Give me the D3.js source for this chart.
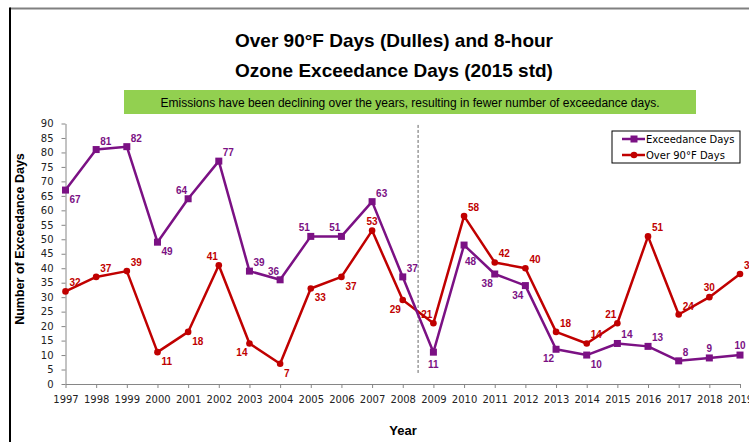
<!DOCTYPE html>
<html>
<head>
<meta charset="utf-8">
<script src="https://cdn.jsdelivr.net/npm/d3@7"></script>
<style>
  body { margin: 0; background: #fff; }
  .axis path, .axis line { stroke: #868686; }
  .axis text { font-family: "DejaVu Sans", sans-serif; font-size: 10px; fill: #222; }
</style>
</head>
<body>
<div id="chart"></div>
<script>
var years = d3.range(1997, 2020);
var exceedDays = [67, 81, 82, 49, 64, 77, 39, 36, 51, 51, 63, 37, 11, 48, 38, 34, 12, 10, 14, 13, 8, 9, 10];
var hotDays = [32, 37, 39, 11, 18, 41, 14, 7, 33, 37, 53, 29, 21, 58, 42, 40, 18, 14, 21, 51, 24, 30, 38];
var yTicks = d3.range(0, 95, 5);
var seriesNames = ["Exceedance Days", "Over 90\u00b0F Days"];
// where each data label sits next to its point
var exceedPlace = ["br","ar","ar","br","al","ar","ar","al","al","al","ar","ar","b","bd","bl","bl","bl","br","ar","ar","ar","a","a"];
var hotPlace = ["ar","ar","ar","br","br","al","bl","br","br","br","a","bl","al","ar","ar","ar","ar","ar","al","ar","ar","a","ar"];

var width = 749, height = 442,
  margin = {left: 65.5, right: 9, top: 123.5, bottom: 58},
  purple = "#7b1184", red = "#c00000";

var svg = d3.select("#chart").append("svg")
  .attr("width", width)
  .attr("height", height);

// frame (top grey rule, left black rule)
svg.append("line").attr("x1", 10).attr("x2", width).attr("y1", 8.5).attr("y2", 8.5)
  .attr("stroke", "#808080").attr("stroke-width", 2);
svg.append("line").attr("x1", 10).attr("x2", 10).attr("y1", 7.5).attr("y2", height)
  .attr("stroke", "#000").attr("stroke-width", 2);

var x = d3.scaleLinear().domain([1997, 2019]).range([margin.left, width - margin.right]),
  y = d3.scaleLinear().domain([0, 90]).range([height - margin.bottom, margin.top]);

// titles
svg.append("text").attr("x", 394).attr("y", 47).attr("text-anchor", "middle")
  .style("font-family", "Liberation Sans, sans-serif").style("font-weight", "bold").style("font-size", "19px")
  .text("Over 90\u00b0F Days (Dulles) and 8-hour");
svg.append("text").attr("x", 394).attr("y", 77).attr("text-anchor", "middle")
  .style("font-family", "Liberation Sans, sans-serif").style("font-weight", "bold").style("font-size", "19px")
  .text("Ozone Exceedance Days (2015 std)");

svg.append("rect").attr("x", 124).attr("y", 90).attr("width", 572).attr("height", 24).attr("fill", "#92d050");
svg.append("text").attr("x", 410).attr("y", 106.5).attr("text-anchor", "middle")
  .style("font-family", "Liberation Sans, sans-serif").style("font-size", "12px")
  .text("Emissions have been declining over the years, resulting in fewer number of exceedance days.");

// axes
svg.append("g").attr("class", "x axis")
  .attr("transform", "translate(0," + y(0) + ")")
  .call(d3.axisBottom(x).tickValues(years).tickFormat(d3.format("d")).tickSizeInner(4).tickSizeOuter(0).tickPadding(8));
svg.append("g").attr("class", "y axis")
  .attr("transform", "translate(" + x(1997) + ",0)")
  .call(d3.axisLeft(y).tickValues(yTicks).tickSizeInner(4).tickSizeOuter(0).tickPadding(8));

svg.append("text")
  .attr("transform", "translate(24,239) rotate(-90)")
  .attr("text-anchor", "middle")
  .style("font-family", "Liberation Sans, sans-serif").style("font-weight", "bold").style("font-size", "12.5px")
  .text("Number of Exceedance Days");
svg.append("text").attr("x", 403).attr("y", 435).attr("text-anchor", "middle")
  .style("font-family", "Liberation Sans, sans-serif").style("font-weight", "bold").style("font-size", "13px")
  .text("Year");

// 2008/2009 divider
svg.append("line")
  .attr("x1", x(2008.5)).attr("x2", x(2008.5))
  .attr("y1", y(89.5)).attr("y2", y(3.5))
  .attr("stroke", "#666").attr("stroke-dasharray", "3,2").attr("stroke-width", 1);

var line = d3.line()
  .x(function (d, i) { return x(years[i]); })
  .y(function (d) { return y(d); });

var offsets = {
  ar: {dx: 4, dy: -5, anchor: "start"},
  al: {dx: -1, dy: -5, anchor: "end"},
  br: {dx: 4, dy: 13, anchor: "start"},
  bd: {dx: 1, dy: 20, anchor: "start"},
  bl: {dx: -2, dy: 13, anchor: "end"},
  a: {dx: 0, dy: -6, anchor: "middle"},
  b: {dx: 0, dy: 16, anchor: "middle"}
};

function drawSeries(values, place, color, square) {
  var g = svg.append("g");
  g.append("path").datum(values)
    .attr("d", line)
    .attr("fill", "none")
    .attr("stroke", color)
    .attr("stroke-width", 2.5)
    .attr("stroke-linejoin", "round");

  if (square) {
    g.selectAll("rect").data(values).enter().append("rect")
      .attr("x", function (d, i) { return x(years[i]) - 3.5; })
      .attr("y", function (d) { return y(d) - 3.5; })
      .attr("width", 7).attr("height", 7)
      .attr("fill", color);
  } else {
    g.selectAll("circle").data(values).enter().append("circle")
      .attr("cx", function (d, i) { return x(years[i]); })
      .attr("cy", function (d) { return y(d); })
      .attr("r", 3.3)
      .attr("fill", color);
  }

  g.selectAll("text").data(values).enter().append("text")
    .attr("x", function (d, i) { return x(years[i]) + offsets[place[i]].dx; })
    .attr("y", function (d, i) { return y(d) + offsets[place[i]].dy; })
    .attr("text-anchor", function (d, i) { return offsets[place[i]].anchor; })
    .style("font-family", "Liberation Sans, sans-serif")
    .style("font-weight", "bold")
    .style("font-size", "10px")
    .attr("fill", color)
    .text(function (d) { return d; });
}

drawSeries(hotDays, hotPlace, red, false);
drawSeries(exceedDays, exceedPlace, purple, true);

// legend
var legend = svg.append("g").attr("transform", "translate(612,131)");
legend.append("rect").attr("width", 128).attr("height", 32)
  .attr("fill", "#fff").attr("stroke", "#000").attr("stroke-width", 1);
var item = legend.selectAll(".item").data(seriesNames).enter().append("g")
  .attr("class", "item")
  .attr("transform", function (d, i) { return "translate(0," + (8 + i * 16) + ")"; });
item.append("line").attr("x1", 10).attr("x2", 33).attr("y1", 0).attr("y2", 0)
  .attr("stroke", function (d, i) { return i ? red : purple; }).attr("stroke-width", 2.5);
item.filter(function (d, i) { return i === 0; }).append("rect")
  .attr("x", 18.5).attr("y", -3.5).attr("width", 7).attr("height", 7).attr("fill", purple);
item.filter(function (d, i) { return i === 1; }).append("circle")
  .attr("cx", 22).attr("cy", 0).attr("r", 3.3).attr("fill", red);
item.append("text").attr("x", 34).attr("y", 3.5)
  .style("font-family", "DejaVu Sans, sans-serif").style("font-size", "10px")
  .text(function (d) { return d; });
</script>
</body>
</html>
